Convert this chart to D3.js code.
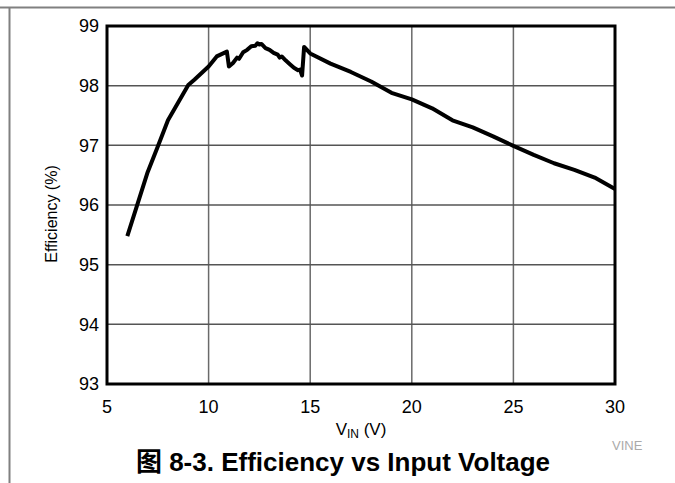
<!DOCTYPE html>
<html>
<head>
<meta charset="utf-8">
<script src="https://cdn.jsdelivr.net/npm/d3@7"></script>
<style>
  body { margin: 0; background: #fff; }
  svg { display: block; font-family: "Liberation Sans", Arial, "Noto Sans CJK SC", sans-serif; }
</style>
</head>
<body>
<script>
// efficiency curve
var vin = [6, 7, 7.5, 8, 9, 9.3, 10, 10.4, 10.9, 11.0, 11.2, 11.4, 11.5, 11.7, 11.9, 12.1, 12.3, 12.4, 12.5, 12.6,
    12.8, 13.0, 13.2, 13.4, 13.5, 13.6, 13.8, 14.0, 14.2, 14.4, 14.5, 14.6, 14.7, 15, 16, 17, 18, 19, 20, 21, 22,
    23, 24, 25, 26, 27, 28, 29, 30];
var efficiency = [95.48, 96.55, 96.98, 97.42, 98.01, 98.1, 98.32, 98.49, 98.57, 98.32, 98.38, 98.47, 98.45, 98.56, 98.6, 98.66, 98.67, 98.71, 98.69, 98.7,
    98.63, 98.6, 98.55, 98.52, 98.47, 98.49, 98.42, 98.36, 98.3, 98.26, 98.27, 98.17, 98.65, 98.54, 98.37, 98.23, 98.07, 97.88, 97.77, 97.62, 97.42,
    97.3, 97.15, 96.99, 96.84, 96.7, 96.59, 96.46, 96.27];
var xTicks = [5, 10, 15, 20, 25, 30];
var yTicks = [93, 94, 95, 96, 97, 98, 99];

var width = 675, height = 483;
var plotLeft = 107, plotRight = 615, plotTop = 26, plotBottom = 384;

var svg = d3.select("body").append("svg")
    .attr("width", width)
    .attr("height", height);

// page frame lines
svg.append("line")
    .attr("x1", 0).attr("x2", width).attr("y1", 7.5).attr("y2", 7.5)
    .style("stroke", "#808080").style("stroke-width", 2);
svg.append("line")
    .attr("x1", 9.5).attr("x2", 9.5).attr("y1", 7).attr("y2", height)
    .style("stroke", "#808080").style("stroke-width", 2);

var x = d3.scaleLinear().domain([5, 30]).range([plotLeft, plotRight]);
var y = d3.scaleLinear().domain([93, 99]).range([plotBottom, plotTop]);

// grid
svg.append("g").selectAll("line")
    .data(xTicks.slice(1, -1))
    .enter().append("line")
    .attr("x1", function (d) { return x(d); })
    .attr("x2", function (d) { return x(d); })
    .attr("y1", plotTop).attr("y2", plotBottom)
    .style("stroke", "#6a6a6a").style("stroke-width", 1.5);

svg.append("g").selectAll("line")
    .data(yTicks.slice(1, -1))
    .enter().append("line")
    .attr("x1", plotLeft).attr("x2", plotRight)
    .attr("y1", function (d) { return y(d); })
    .attr("y2", function (d) { return y(d); })
    .style("stroke", "#555").style("stroke-width", 1.5);

// tick labels
svg.append("g").selectAll("text")
    .data(yTicks)
    .enter().append("text")
    .attr("x", plotLeft - 8)
    .attr("y", function (d) { return y(d); })
    .attr("dy", "0.36em")
    .attr("text-anchor", "end")
    .style("font-size", "18px")
    .text(function (d) { return d; });

svg.append("g").selectAll("text")
    .data(xTicks)
    .enter().append("text")
    .attr("x", function (d) { return x(d); })
    .attr("y", 413)
    .attr("text-anchor", "middle")
    .style("font-size", "18px")
    .text(function (d) { return d; });

// curve
var line = d3.line()
    .x(function (d, i) { return x(vin[i]); })
    .y(function (d) { return y(d); });

svg.append("path")
    .datum(efficiency)
    .attr("d", line)
    .style("fill", "none")
    .style("stroke", "#000")
    .style("stroke-width", 4)
    .style("stroke-linejoin", "round");

// plot frame
svg.append("rect")
    .attr("x", plotLeft).attr("y", plotTop)
    .attr("width", plotRight - plotLeft).attr("height", plotBottom - plotTop)
    .style("fill", "none").style("stroke", "#000").style("stroke-width", 3);

// axis titles
svg.append("text")
    .attr("transform", "translate(57,214) rotate(-90)")
    .attr("text-anchor", "middle")
    .style("font-size", "16px")
    .text("Efficiency (%)");

var xt = svg.append("text")
    .attr("x", (plotLeft + plotRight) / 2)
    .attr("y", 435)
    .attr("text-anchor", "middle")
    .style("font-size", "17px");
xt.append("tspan").text("V");
xt.append("tspan").attr("dy", 3).style("font-size", "12px").text("IN");
xt.append("tspan").attr("dy", -3).text(" (V)");

svg.append("text")
    .attr("x", 612).attr("y", 450)
    .style("font-size", "13px")
    .style("fill", "#aaa")
    .text("VINE");

svg.append("text")
    .attr("x", 343).attr("y", 471)
    .attr("text-anchor", "middle")
    .style("font-size", "26px")
    .style("font-weight", "bold")
    .text("图 8-3. Efficiency vs Input Voltage");
</script>
</body>
</html>
